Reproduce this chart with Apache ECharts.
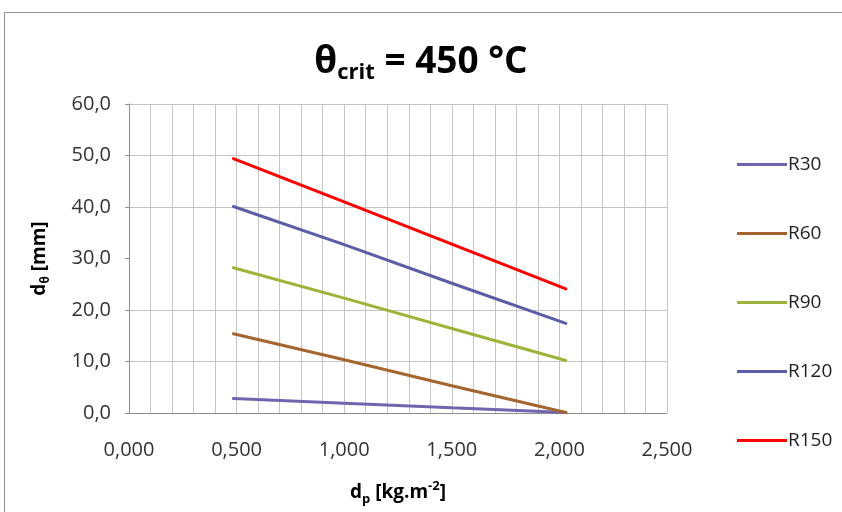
<!DOCTYPE html>
<html>
<head>
<meta charset="utf-8">
<script src="https://cdn.jsdelivr.net/npm/echarts@6/dist/echarts.min.js"></script>
<style>
  html, body { margin: 0; padding: 0; background: #fff; }
  #chart { width: 842px; height: 512px; }
</style>
</head>
<body>
<div id="chart"></div>
<script>
// Data
const seriesNames = ['R30', 'R60', 'R90', 'R120', 'R150'];
const dpValues = [0.485, 1.0, 1.5, 2.03];
const r30 = [2.8, 1.9, 1.0, 0.1];
const r60 = [15.4, 10.35, 5.3, 0.1];
const r90 = [28.2, 22.3, 16.4, 10.2];
const r120 = [40.1, 32.7, 25.2, 17.4];
const r150 = [49.4, 41.0, 32.8, 24.1];
const seriesColors = ['#7066b0', '#a5652f', '#9bb53a', '#5b5ea6', '#ff0000'];
const yTickLabels = ['0,0', '10,0', '20,0', '30,0', '40,0', '50,0', '60,0'];
const xTickLabels = ['0,000', '0,500', '1,000', '1,500', '2,000', '2,500'];

const allValues = [r30, r60, r90, r120, r150];
const FONT = 'Open Sans';

const chart = echarts.init(document.getElementById('chart'), null, { renderer: 'canvas' });

const series = seriesNames.map((name, i) => ({
  name: name,
  type: 'line',
  data: dpValues.map((x, j) => [x, allValues[i][j]]),
  showSymbol: false,
  symbol: 'none',
  smooth: false,
  lineStyle: { color: seriesColors[i], width: 3, cap: 'round' },
  itemStyle: { color: seriesColors[i] },
  z: 3
}));

const option = {
  animation: false,
  backgroundColor: '#ffffff',
  graphic: [{
    type: 'rect',
    shape: { x: 4.5, y: 12.5, width: 900, height: 600 },
    style: { fill: 'none', stroke: '#8c8c8c', lineWidth: 1 },
    silent: true
  }],
  title: {
    text: '{a|θ}{sub|crit}{a| = 450 °C}',
    left: 'center',
    top: 35,
    textStyle: {
      rich: {
        a: { fontFamily: FONT, fontWeight: 'bold', fontSize: 37, color: '#000', lineHeight: 44 },
        sub: { fontFamily: FONT, fontWeight: 'bold', fontSize: 22, color: '#000', lineHeight: 22, verticalAlign: 'bottom' }
      }
    }
  },
  legend: {
    orient: 'vertical',
    left: 732,
    top: 150,
    itemWidth: 50,
    itemHeight: 3,
    itemGap: 50,
    icon: 'rect',
    data: seriesNames,
    textStyle: { fontFamily: FONT, fontSize: 19, color: '#222', padding: [0, 0, 0, -4] }
  },
  grid: { left: 129, right: 175, top: 104, bottom: 99, containLabel: false, outerBoundsMode: 'none' },
  xAxis: {
    type: 'value',
    min: 0,
    max: 2.5,
    interval: 0.1,
    name: '{b|d}{sub|p}{b| [kg.m}{sup|-2}{b|]}',
    nameLocation: 'middle',
    nameGap: 67,
    nameTextStyle: {
      rich: {
        b: { fontFamily: FONT, fontWeight: 'bold', fontSize: 19, color: '#000', lineHeight: 26 },
        sub: { fontFamily: FONT, fontWeight: 'bold', fontSize: 13, color: '#000', lineHeight: 13, verticalAlign: 'bottom' },
        sup: { fontFamily: FONT, fontWeight: 'bold', fontSize: 13, color: '#000', lineHeight: 13, verticalAlign: 'top' }
      }
    },
    axisLine: { show: true, lineStyle: { color: '#8c8c8c', width: 1 } },
    axisTick: { show: false },
    axisLabel: {
      fontFamily: FONT,
      fontSize: 20,
      color: '#333',
      margin: 27,
      formatter: function (v) {
        const k = Math.round(v * 10);
        if (k % 5 !== 0) return '';
        return xTickLabels[k / 5];
      }
    },
    splitLine: { show: true, lineStyle: { color: '#c4c4c4', width: 1 } }
  },
  yAxis: {
    type: 'value',
    min: 0,
    max: 60,
    interval: 10,
    name: '{b|d}{sub|θ}{b| [mm]}',
    nameLocation: 'middle',
    nameGap: 77,
    nameRotate: 90,
    nameTextStyle: {
      rich: {
        b: { fontFamily: FONT, fontWeight: 'bold', fontSize: 19, color: '#000', lineHeight: 24 },
        sub: { fontFamily: FONT, fontWeight: 'bold', fontSize: 12, color: '#000', lineHeight: 12, verticalAlign: 'bottom' }
      }
    },
    axisLine: { show: true, lineStyle: { color: '#8c8c8c', width: 1 } },
    axisTick: { show: true, inside: false, length: 4, lineStyle: { color: '#8c8c8c' } },
    axisLabel: {
      fontFamily: FONT,
      fontSize: 20,
      color: '#333',
      margin: 18,
      formatter: function (v) { return yTickLabels[Math.round(v / 10)]; }
    },
    splitLine: {
      show: true,
      lineStyle: { color: ['#c4c4c4', '#c4c4c4', '#c4c4c4', 'rgba(0,0,0,0)', '#c4c4c4', '#c4c4c4', '#c4c4c4'], width: 1 }
    }
  },
  series: series
};

chart.setOption(option);
</script>
</body>
</html>
